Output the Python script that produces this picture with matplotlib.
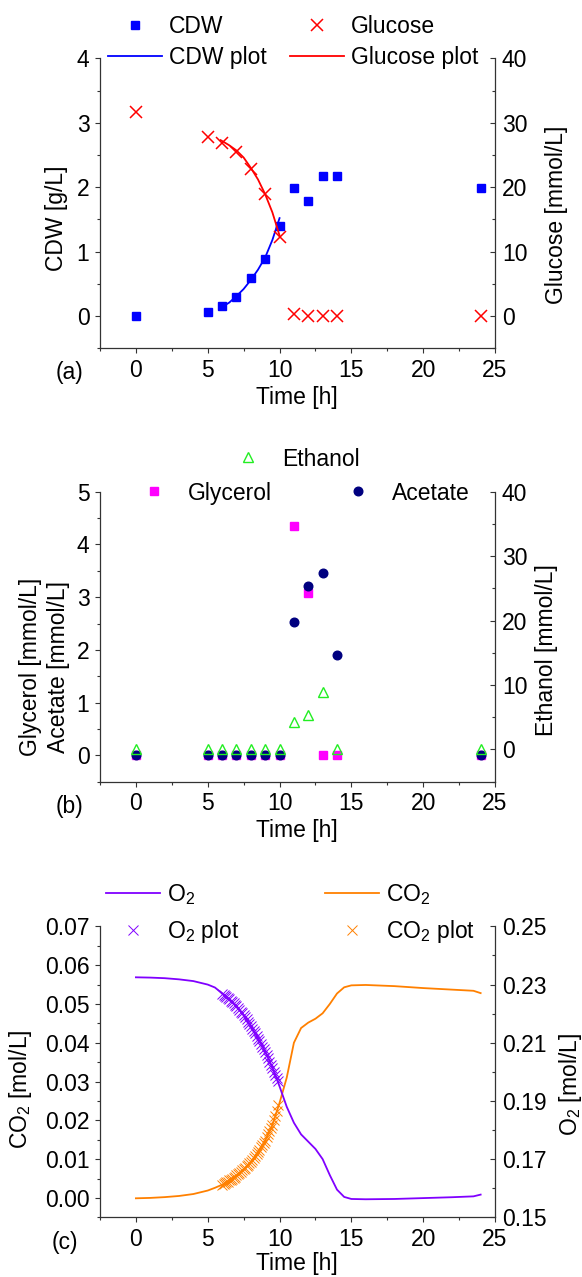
import matplotlib

matplotlib.use("Agg")

import matplotlib.pyplot as plt
from matplotlib.ticker import FixedLocator, FormatStrFormatter, MultipleLocator

plt.rcParams["font.family"] = ["Liberation Sans", "DejaVu Sans"]
plt.rcParams["mathtext.fontset"] = "custom"
plt.rcParams["mathtext.rm"] = "Liberation Sans"
plt.rcParams["mathtext.it"] = "Liberation Sans:italic"
plt.rcParams["font.size"] = 16.5

# (a) biomass and glucose
time_a = [0, 5, 6, 7, 8, 9, 10, 11, 12, 13, 14, 24]
cdw = [0.0, 0.07, 0.15, 0.30, 0.59, 0.89, 1.39, 1.98, 1.78, 2.18, 2.18, 1.98]
glucose = [31.7, 27.8, 26.9, 25.5, 22.8, 18.9, 12.3, 0.3, 0.0, 0.0, 0.0, 0.0]
cdw_fit_t = [6.0, 6.5, 7.0, 7.5, 8.0, 8.5, 9.0, 9.5, 10.0]
cdw_fit = [0.14, 0.21, 0.31, 0.42, 0.56, 0.72, 0.91, 1.18, 1.52]
glc_fit_t = [5.9, 6.5, 7.0, 7.5, 8.0, 8.5, 9.0, 9.5, 10.0]
glc_fit = [27.3, 26.5, 25.7, 24.6, 23.0, 21.2, 18.9, 16.1, 12.5]

# (b) by-products
glycerol = [0, 0, 0, 0, 0, 0, 0, 4.35, 3.07, 0, 0, 0]
acetate = [0, 0, 0, 0, 0, 0, 0, 2.52, 3.21, 3.45, 1.90, 0]
ethanol = [0, 0, 0, 0, 0, 0, 0, 4.25, 5.4, 8.96, 0, 0]

# (c) off-gas
gas_t = [0, 1, 2, 3, 4, 5, 5.5, 6, 6.5, 7, 7.5, 8, 8.5, 9, 9.5, 10, 10.5, 11,
         11.5, 12, 12.5, 13, 13.5, 14, 14.5, 15, 16, 18, 20, 22, 23.5, 24]
o2 = [0.2325, 0.2324, 0.2322, 0.2318, 0.2312, 0.2300, 0.2290, 0.2270, 0.2250,
      0.2225, 0.2195, 0.2157, 0.2115, 0.2070, 0.2015, 0.1950, 0.1880, 0.1825,
      0.1785, 0.1760, 0.1735, 0.1700, 0.1645, 0.1595, 0.1570, 0.1563, 0.1562,
      0.1563, 0.1566, 0.1569, 0.1572, 0.1578]
co2 = [-0.0001, 0.0000, 0.0002, 0.0005, 0.0010, 0.0019, 0.0026, 0.0034, 0.0045,
       0.0058, 0.0074, 0.0093, 0.0118, 0.0148, 0.0188, 0.0245, 0.0310, 0.0400,
       0.0438, 0.0452, 0.0462, 0.0476, 0.0500, 0.0527, 0.0543, 0.0548, 0.0549,
       0.0546, 0.0541, 0.0537, 0.0534, 0.0528]
fit_t = [6.0, 6.1, 6.2, 6.3, 6.4, 6.5, 6.6, 6.7, 6.8, 6.9, 7.0, 7.1, 7.2, 7.3,
         7.4, 7.5, 7.6, 7.7, 7.8, 7.9, 8.0, 8.1, 8.2, 8.3, 8.4, 8.5, 8.6, 8.7,
         8.8, 8.9, 9.0, 9.1, 9.2, 9.3, 9.4, 9.5, 9.6, 9.7, 9.8, 9.9]
o2_fit = [0.2268, 0.2265, 0.2261, 0.2257, 0.2253, 0.2249, 0.2245, 0.2240,
          0.2235, 0.2230, 0.2225, 0.2219, 0.2213, 0.2207, 0.2201, 0.2195,
          0.2188, 0.2181, 0.2173, 0.2165, 0.2157, 0.2149, 0.2141, 0.2132,
          0.2123, 0.2114, 0.2105, 0.2096, 0.2087, 0.2077, 0.2068, 0.2057,
          0.2046, 0.2035, 0.2024, 0.2012, 0.2001, 0.1990, 0.1978, 0.1967]
co2_fit = [0.0034, 0.0036, 0.0038, 0.0040, 0.0042, 0.0045, 0.0047, 0.0050,
           0.0052, 0.0055, 0.0058, 0.0061, 0.0064, 0.0067, 0.0071, 0.0074,
           0.0078, 0.0081, 0.0085, 0.0089, 0.0093, 0.0098, 0.0103, 0.0108,
           0.0113, 0.0118, 0.0124, 0.0130, 0.0136, 0.0142, 0.0148, 0.0156,
           0.0164, 0.0172, 0.0180, 0.0189, 0.0200, 0.0212, 0.0225, 0.0240]
o2_ticks = [0.15, 0.17, 0.19, 0.21, 0.23, 0.25]

W, H = 582, 1277
SPINE = "#333333"

fig = plt.figure(figsize=(W / 100, H / 100), dpi=100)


def make_axes(top, bottom, left=100, right=495):
    ax = fig.add_axes((left / W, 1 - bottom / H, (right - left) / W, (bottom - top) / H))
    tw = ax.twinx()
    for s in ("top", "right"):
        ax.spines[s].set_visible(False)
    for s in ("top", "left", "bottom"):
        tw.spines[s].set_visible(False)
    for a in (ax, tw):
        for sp in a.spines.values():
            sp.set_color(SPINE)
            sp.set_linewidth(0.9)
    ax.tick_params(which="both", direction="out", right=False, top=False,
                   color=SPINE, width=0.8, pad=4)
    ax.tick_params(which="major", length=3.6)
    ax.tick_params(which="minor", length=2.2)
    tw.tick_params(which="both", direction="in", color=SPINE, width=0.8, pad=5)
    tw.tick_params(which="major", length=3.6)
    tw.tick_params(which="minor", length=2.2)
    ax.set_xlim(-2.5, 25)
    ax.xaxis.set_major_locator(MultipleLocator(5))
    ax.xaxis.set_minor_locator(MultipleLocator(2.5))
    ax.set_xlabel("Time [h]", va="center")
    ax.xaxis.set_label_coords(0.499, -0.168)
    return ax, tw


def legend(handles, x, y, spacing=0.3):
    fig.legend(handles=handles, loc="center left", bbox_to_anchor=(x / W, 1 - y / H),
               frameon=False, borderpad=0, borderaxespad=0, handlelength=2.36,
               handletextpad=0.3, labelspacing=spacing, numpoints=1)


# ---- (a)
ax, tw = make_axes(58.3, 348.3)
ax.set_ylim(-0.5, 4)
tw.set_ylim(-5, 40)
ax.yaxis.set_major_locator(MultipleLocator(1))
ax.yaxis.set_minor_locator(MultipleLocator(0.5))
tw.yaxis.set_major_locator(MultipleLocator(10))
tw.yaxis.set_minor_locator(MultipleLocator(5))
h1, = ax.plot(time_a, cdw, "s", color="#0000ff", ms=6.2, label="CDW")
h2, = ax.plot(cdw_fit_t, cdw_fit, "-", color="#0000ff", lw=1.3, label="CDW plot")
h3, = tw.plot(time_a, glucose, "x", color="#ff0000", ms=8.5, mew=1.1, label="Glucose")
h4, = tw.plot(glc_fit_t, glc_fit, "-", color="#ff0000", lw=1.3, label="Glucose plot")
ax.set_ylabel("CDW [g/L]", va="center")
ax.yaxis.set_label_coords(-0.111, 0.449)
tw.set_ylabel("Glucose [mmol/L]", va="center", rotation=90)
tw.yaxis.set_label_coords(1.155, 0.46)
ax.text(-0.076, -0.082, "(a)", transform=ax.transAxes, ha="center", va="center")
legend([h1, h2], 108, 42, spacing=0.35)
legend([h3, h4], 290, 42, spacing=0.35)

# ---- (b)
ax, tw = make_axes(491.7, 781.7)
ax.set_ylim(-0.5, 5)
tw.set_ylim(-5, 40)
ax.yaxis.set_major_locator(MultipleLocator(1))
ax.yaxis.set_minor_locator(MultipleLocator(0.5))
tw.yaxis.set_major_locator(MultipleLocator(10))
tw.yaxis.set_minor_locator(MultipleLocator(5))
g1, = ax.plot(time_a, glycerol, "s", color="#ff00ff", ms=6, label="Glycerol")
g2, = ax.plot(time_a, acetate, "o", color="#000080", ms=6.2, label="Acetate")
g3, = tw.plot(time_a, ethanol, "^", color="#22ee22", mfc="none", mew=1.0, ms=7,
              label="Ethanol")
ax.set_ylabel("Glycerol [mmol/L]\nAcetate [mmol/L]", va="center", linespacing=1.3)
ax.yaxis.set_label_coords(-0.1405, 0.3955)
tw.set_ylabel("Ethanol [mmol/L]", va="center", rotation=90)
tw.yaxis.set_label_coords(1.13, 0.454)
ax.text(-0.078, -0.087, "(b)", transform=ax.transAxes, ha="center", va="center")
legend([g3], 221, 459)
legend([g1], 127, 493)
legend([g2], 331, 493)

# ---- (c)
ax, tw = make_axes(926.4, 1217.3)
ax.set_ylim(-0.005, 0.07)
tw.set_ylim(0.15, 0.25)
ax.yaxis.set_major_locator(MultipleLocator(0.01))
ax.yaxis.set_minor_locator(MultipleLocator(0.005))
ax.yaxis.set_major_formatter(FormatStrFormatter("%.2f"))
tw.yaxis.set_major_locator(FixedLocator(o2_ticks))
tw.yaxis.set_minor_locator(MultipleLocator(0.01))
tw.yaxis.set_major_formatter(FormatStrFormatter("%.2f"))
c1, = ax.plot(gas_t, co2, "-", color="#ff8000", lw=1.3, label="CO$_2$")
c2, = ax.plot(fit_t, co2_fit, "x", color="#ff8000", ms=7, mew=0.7, label="CO$_2$ plot")
o1, = tw.plot(gas_t, o2, "-", color="#8000ff", lw=1.3, label="O$_2$")
o2h, = tw.plot(fit_t, o2_fit, "x", color="#8000ff", ms=7, mew=0.7, label="O$_2$ plot")
ax.set_ylabel("CO$_2$ [mol/L]", va="center")
ax.yaxis.set_label_coords(-0.2, 0.439)
tw.set_ylabel("O$_2$ [mol/L]", va="center", rotation=90)
tw.yaxis.set_label_coords(1.19, 0.456)
ax.text(-0.0886, -0.086, "(c)", transform=ax.transAxes, ha="center", va="center")
ax.xaxis.set_label_coords(0.499, -0.158)
legend([o1, o2h], 106, 913.5, spacing=0.5)
legend([c1, c2], 325, 913.5, spacing=0.5)

fig.savefig("out.png", dpi=100)
